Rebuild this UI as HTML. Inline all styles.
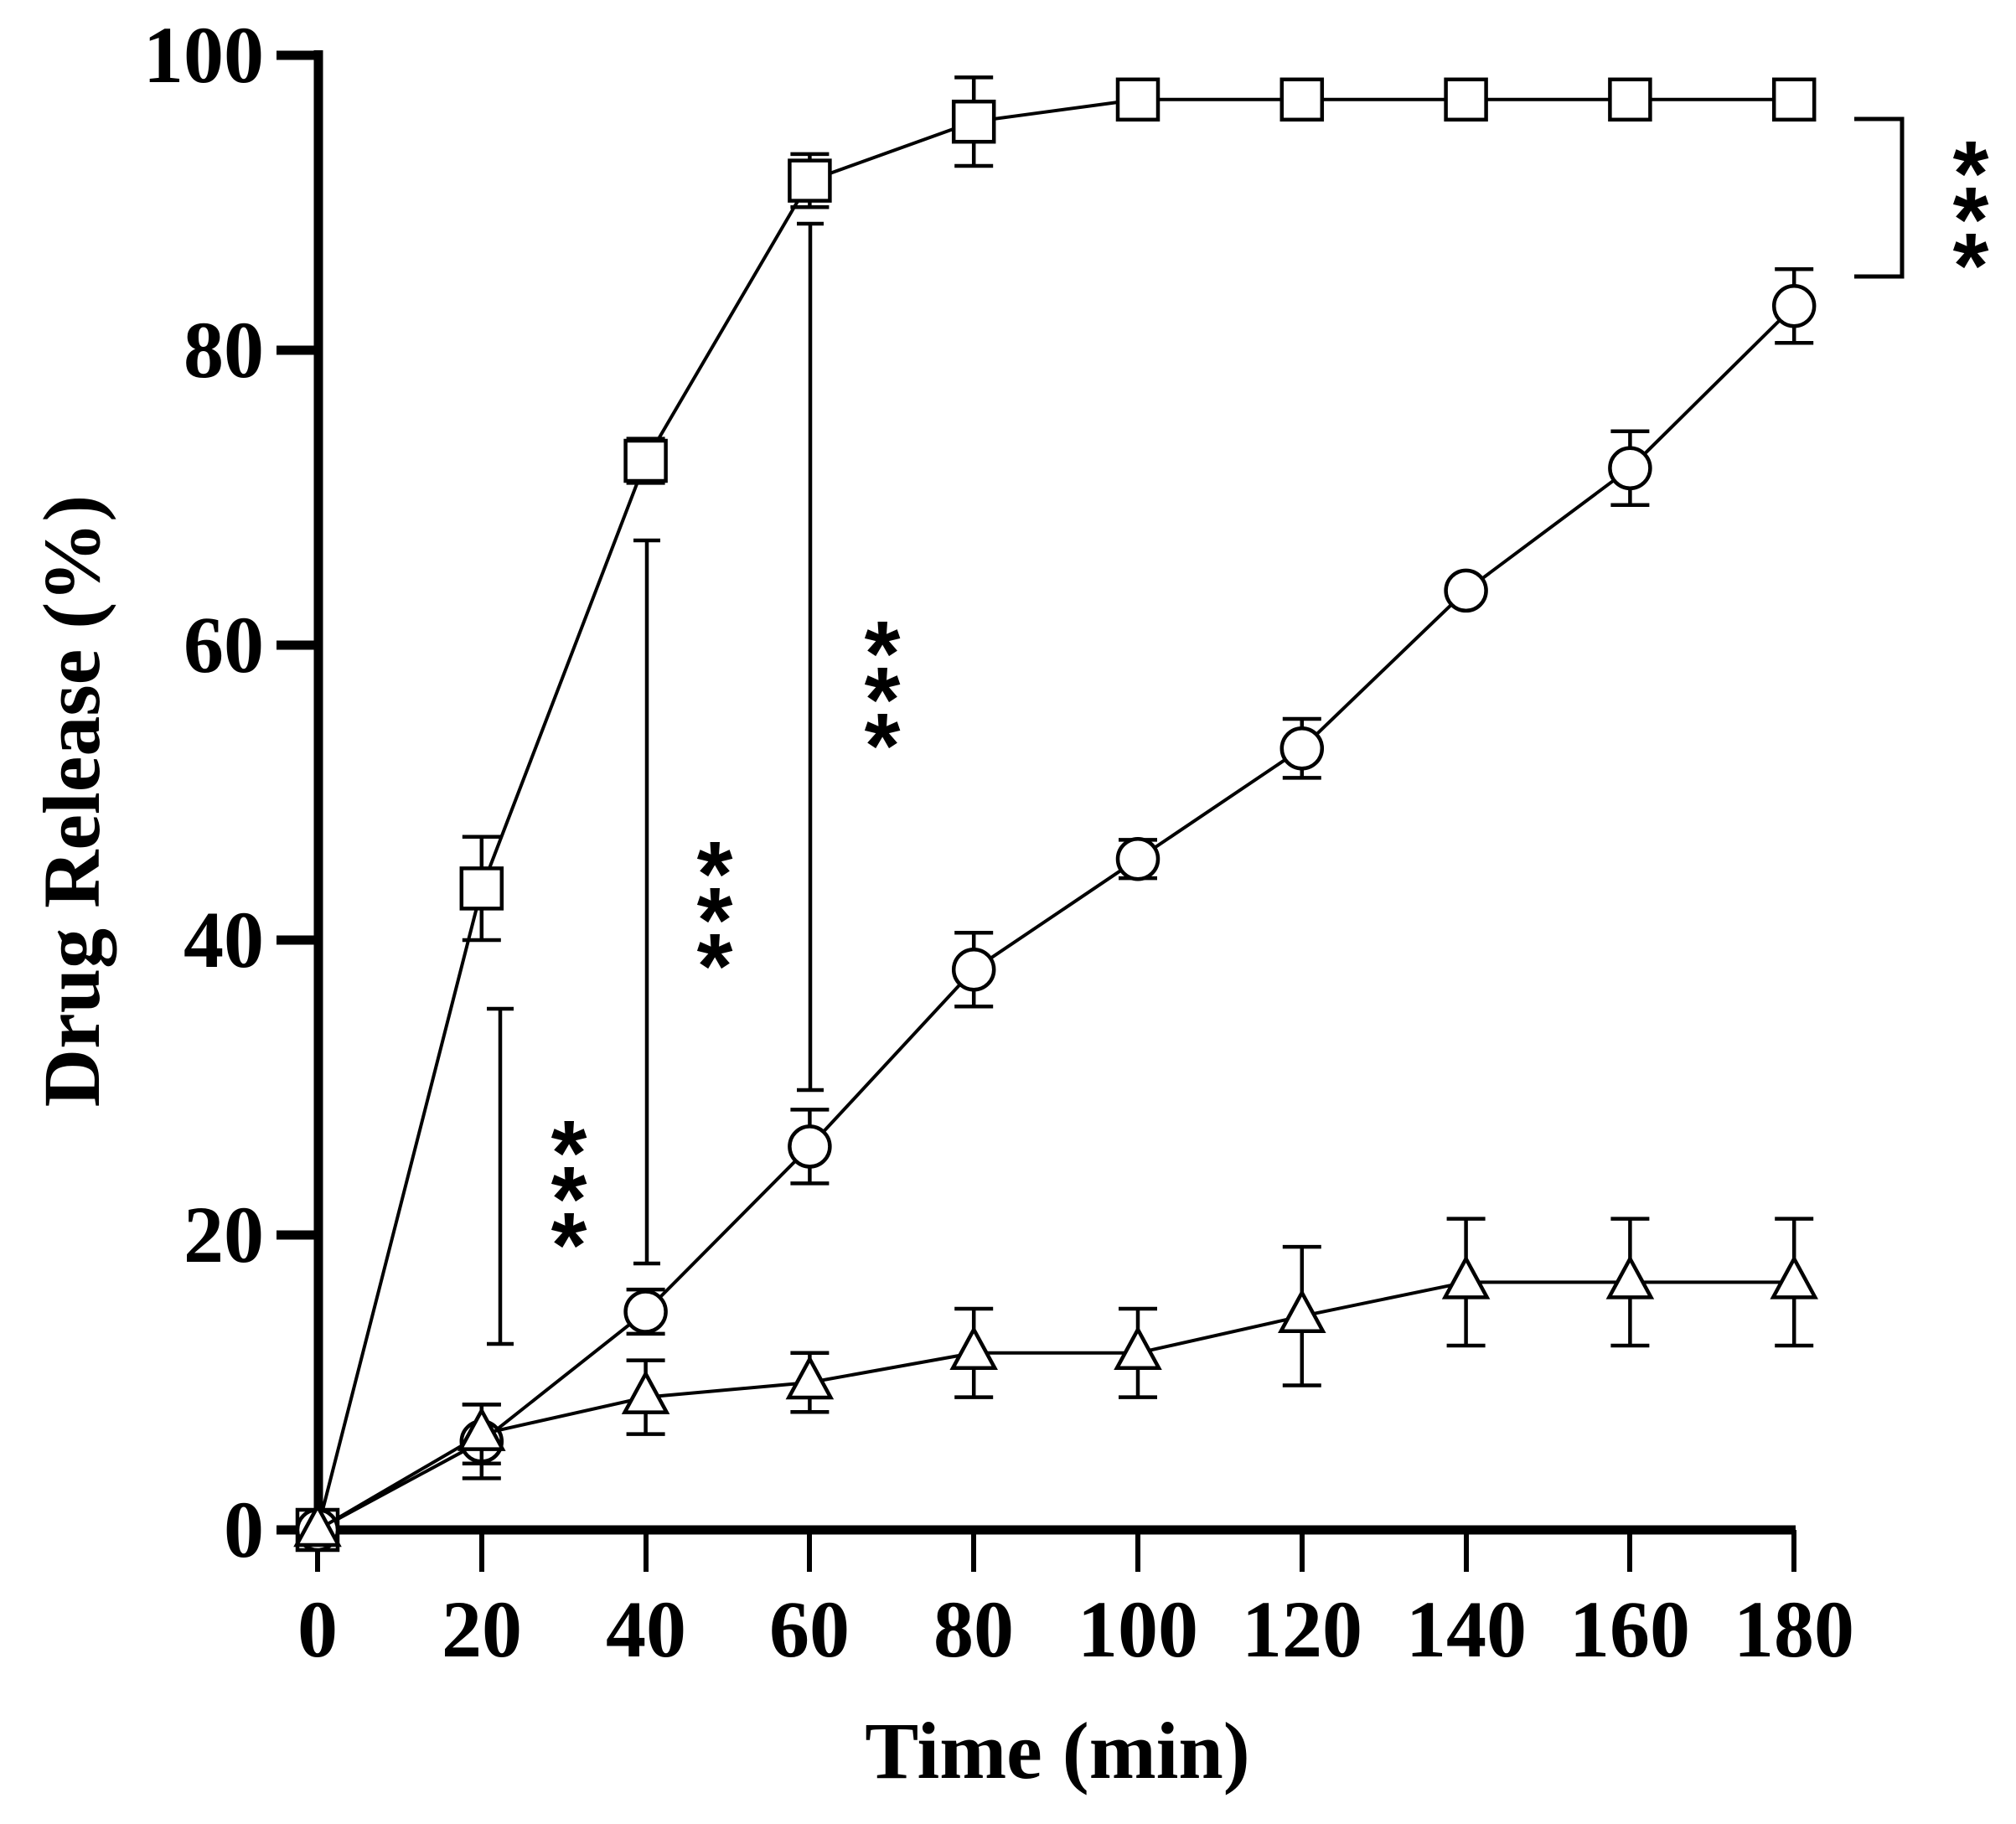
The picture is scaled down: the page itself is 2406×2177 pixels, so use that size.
<!DOCTYPE html>
<html><head><style>html,body{margin:0;padding:0;background:#fff}svg{display:block}</style></head>
<body>
<svg width="2406" height="2177" viewBox="0 0 2406 2177" xmlns="http://www.w3.org/2000/svg" font-family="Liberation Serif, serif" font-weight="bold">
<script>/* none */</script>
<g id="g"></g>
<g stroke="#000" fill="none">
<!-- axes -->
<line x1="380" y1="60" x2="380" y2="1831" stroke-width="11"/>
<line x1="374" y1="1826" x2="2143" y2="1826" stroke-width="11"/>
<g stroke-width="11">
<line x1="330" y1="66" x2="380" y2="66"/><line x1="330" y1="418" x2="380" y2="418"/>
<line x1="330" y1="770" x2="380" y2="770"/><line x1="330" y1="1122" x2="380" y2="1122"/>
<line x1="330" y1="1474" x2="380" y2="1474"/><line x1="330" y1="1826" x2="380" y2="1826"/>
</g>
<g stroke-width="6">
<line x1="379" y1="1826" x2="379" y2="1876"/><line x1="575" y1="1826" x2="575" y2="1876"/>
<line x1="771" y1="1826" x2="771" y2="1876"/><line x1="966" y1="1826" x2="966" y2="1876"/>
<line x1="1162" y1="1826" x2="1162" y2="1876"/><line x1="1358" y1="1826" x2="1358" y2="1876"/>
<line x1="1554" y1="1826" x2="1554" y2="1876"/><line x1="1750" y1="1826" x2="1750" y2="1876"/>
<line x1="1945" y1="1826" x2="1945" y2="1876"/><line x1="2141" y1="1826" x2="2141" y2="1876"/>
</g>
</g>
<g font-size="96" text-anchor="end">
<text x="315" y="98">100</text><text x="315" y="450">80</text><text x="315" y="802">60</text>
<text x="315" y="1154">40</text><text x="315" y="1506">20</text><text x="315" y="1858">0</text>
</g>
<g font-size="96" text-anchor="middle">
<text x="379" y="1977">0</text><text x="575" y="1977">20</text><text x="771" y="1977">40</text>
<text x="966" y="1977">60</text><text x="1162" y="1977">80</text><text x="1358" y="1977">100</text>
<text x="1554" y="1977">120</text><text x="1750" y="1977">140</text><text x="1945" y="1977">160</text>
<text x="2141" y="1977">180</text>
<text x="1262" y="2122">Time (min)</text>
<text transform="translate(118,956) rotate(-90)">Drug Release (%)</text>
</g>
<g id="plot" stroke="#000" stroke-width="4.5" fill="none"></g>
<g font-family="Liberation Sans, sans-serif" font-size="110" text-anchor="middle" id="stars"></g>
<script>
var ns="http://www.w3.org/2000/svg",P=document.getElementById('plot');
function X(t){return 379+t*9.79}function Y(v){return 1826-17.6*v}
function el(n,a){var e=document.createElementNS(ns,n);for(var k in a)e.setAttribute(k,a[k]);P.appendChild(e);return e}
var xs=[0,20,40,60,80,100,120,140,160,180];
var sq=[[0,0],[43.5,3.5],[72.5,1.5],[91.5,1.8],[95.5,3],[97,0],[97,0],[97,0],[97,0],[97,0]];
var ci=[[0,0],[6,2.5],[14.8,1.5],[26,2.5],[38,2.5],[45.5,1.3],[53,2],[63.7,0],[72,2.5],[83,2.5]];
var tr=[[0,0],[6.5,2],[9,2.5],[10,2],[12,3],[12,3],[14.5,4.7],[16.8,4.3],[16.8,4.3],[16.8,4.3]];
function series(d,m){var pts=xs.map(function(t,i){return X(t)+','+Y(d[i][0])}).join(' ');
el('polyline',{points:pts,'stroke-width':4});
xs.forEach(function(t,i){var x=X(t),y=Y(d[i][0]),e=d[i][1];if(e>0){var t1=Y(d[i][0]+e),b=Y(d[i][0]-e);
el('line',{x1:x,y1:t1,x2:x,y2:b});el('line',{x1:x-23,y1:t1,x2:x+23,y2:t1});el('line',{x1:x-23,y1:b,x2:x+23,y2:b});}
if(m=='s')el('rect',{x:x-24,y:y-24,width:48,height:48,fill:'#fff'});
if(m=='c')el('circle',{cx:x,cy:y,r:24,fill:'#fff'});
if(m=='t')el('polygon',{points:(x)+','+(y-28)+' '+(x-25)+','+(y+18)+' '+(x+25)+','+(y+18),fill:'#fff'});});}
series(sq,'s');series(ci,'c');series(tr,'t');
[[597,1204,1604],[772,645,1508],[967,267,1301]].forEach(function(b){el('line',{x1:b[0],y1:b[1],x2:b[0],y2:b[2]});
el('line',{x1:b[0]-16,y1:b[1],x2:b[0]+16,y2:b[1]});el('line',{x1:b[0]-16,y1:b[2],x2:b[0]+16,y2:b[2]});});
el('polyline',{points:'2213,142 2270,142 2270,330 2213,330','stroke-width':5});
var S=document.getElementById('stars');
[[679,1352],[853,1019],[1053,756],[2352,183]].forEach(function(s){for(var k=0;k<3;k++){var t=document.createElementNS(ns,'text');
t.setAttribute('x',s[0]);t.setAttribute('y',s[1]+k*55+62);t.textContent='*';S.appendChild(t);}});
</script>
</svg>
</body></html>
